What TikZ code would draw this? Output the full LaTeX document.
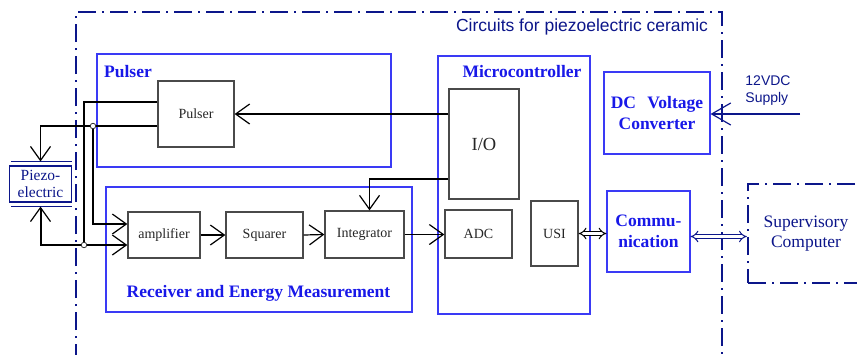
\documentclass[tikz,border=0pt]{standalone}
\usepackage{fontspec}
\setmainfont{Liberation Serif}
\setsansfont{Liberation Sans}
\usetikzlibrary{arrows.meta}
\definecolor{pz_blue}{HTML}{3A3AF5}
\definecolor{pz_label}{HTML}{1818E8}
\definecolor{pz_navy}{HTML}{0C168A}
\definecolor{BoxGray}{HTML}{4A4A4A}
\tikzset{
  block/.style={draw=BoxGray, fill=white, line width=1.3pt, inner sep=0pt,
                text=black!85, font=\fontsize{14}{16}\selectfont},
  group/.style={draw=pz_blue, line width=1.1pt, inner sep=0pt},
  grouptitle/.style={text=pz_label, font=\fontsize{17.5}{21}\selectfont\bfseries,
                     align=center, inner sep=0pt},
  boundary/.style={draw=pz_navy, line width=2.4pt,
                   dash pattern=on 18pt off 6pt on 2pt off 6pt},
  barb/.tip={Straight Barb[length=14pt, width=20pt, line width=1.2pt]},
  signal/.style={draw=black, line width=1.2pt, -barb},
  boldsignal/.style={draw=black, line width=2pt, barb-barb},
  plainwire/.style={draw=black, line width=1.2pt},
  junction/.style={circle, draw=black!80, fill=white, line width=0.8pt,
                   minimum size=5.5pt, inner sep=0pt},
  busarrow/.style={double=white, draw=black, line width=1pt, double distance=3pt,
                   {Implies[scale=1.6]}-{Implies[scale=1.6]}},
  supplyline/.style={draw=pz_navy, line width=1.3pt,
                 -{Straight Barb[length=19pt, width=22pt, line width=1.2pt]}},
  note/.style={text=pz_navy, font=\sffamily\fontsize{14}{17}\selectfont, align=left, inner sep=0pt},
  piezoplate/.style={draw=pz_navy, line width=1.4pt},
}

\begin{document}
\begin{tikzpicture}[x=1pt, y=-1pt]
  \useasboundingbox (0,0) rectangle (857,354);

  % --- outer boundary of the circuit board -------------------------------
  \draw[boundary] (76,362) -- (76,12) -- (722,12) -- (722,362);
  \node[text=pz_navy, font=\sffamily\fontsize{17.5}{20}\selectfont, inner sep=0pt]
    (boardtitle) at (582,27) {Circuits for piezoelectric ceramic};

  % --- functional groups -------------------------------------------------
  \node[group, minimum width=294, minimum height=113] (pulsergrp) at (244,110.5) {};
  \node[group, minimum width=306, minimum height=125] (recvgrp) at (259,249.5) {};
  \node[group, minimum width=152, minimum height=258] (mcugrp) at (514,185) {};
  \node[grouptitle, anchor=west] (pulsertitle) at (104,72) {Pulser};
  \node[grouptitle] (recvtitle) at (258.5,293) {Receiver and Energy Measurement};
  \node[grouptitle] (mcutitle) at (522,72) {Microcontroller};

  \node[group, grouptitle, minimum width=106, minimum height=82] (dcconv) at (657,113)
    {DC\hspace{0.65em}Voltage\\Converter};
  \node[group, grouptitle, minimum width=83, minimum height=81] (comm) at (648.5,231.5)
    {Commu-\\nication};

  % --- blocks ------------------------------------------------------------
  \node[block, minimum width=76, minimum height=66] (pulserblk) at (196,114) {Pulser};
  \node[block, minimum width=72, minimum height=46] (amp) at (164,235) {amplifier};
  \node[block, minimum width=77, minimum height=46] (squarer) at (264.5,235) {Squarer};
  \node[block, minimum width=79, minimum height=47] (integ) at (364.5,234.5) {Integrator};
  \node[block, minimum width=70, minimum height=110, font=\fontsize{18.5}{20}\selectfont]
    (io) at (484,144) {I/O};
  \node[block, minimum width=67, minimum height=48] (adc) at (478.5,234) {ADC};
  \node[block, minimum width=47, minimum height=65] (usi) at (554.5,233.5) {USI};

  % --- piezoelectric element ---------------------------------------------
  \node[draw=pz_navy, line width=1.1pt, minimum width=62, minimum height=36,
        inner sep=0pt, align=center, text=pz_navy, font=\fontsize{15.5}{16.5}\selectfont]
    (piezo) at (40.5,184) {Piezo-\\electric};
  \coordinate (piezo-top) at ([yshift=4pt]piezo.north);
  \coordinate (piezo-bot) at ([yshift=-4pt]piezo.south);
  \draw[piezoplate] ([xshift=2pt, yshift=4pt]piezo.north west) -- ([yshift=4pt]piezo.north east);
  \draw[piezoplate] ([xshift=2pt, yshift=-4pt]piezo.south west) -- ([yshift=-4pt]piezo.south east);

  % --- supervisory computer ----------------------------------------------
  \node[boundary, minimum width=116, minimum height=99, inner sep=0pt, align=center,
        text=pz_navy, font=\fontsize{17.5}{20}\selectfont] (supcomp) at (806,233.5)
    {Supervisory\\Computer};

  % --- excitation and receive wiring -------------------------------------
  \coordinate (jtop) at (93,126);
  \coordinate (jbot) at (84,245);
  \draw[plainwire] ([yshift=12pt]pulserblk.west) -| (jbot);
  \draw[signal] ([yshift=-12pt]pulserblk.west) -| (piezo-top);
  \draw[signal] (jtop) |- ([yshift=11pt]amp.west);
  \draw[boldsignal] (piezo-bot) |- ([yshift=-10pt]amp.west);
  \node[junction] (jtopdot) at (jtop) {};
  \node[junction] (jbotdot) at (jbot) {};

  % --- signal chain ------------------------------------------------------
  \draw[signal] (amp.east) -- (squarer.west);
  \draw[signal] (squarer.east) -- (integ.west);
  \draw[signal] (integ.east) -- (integ.east -| adc.west);
  \draw[signal] (pulserblk.east -| io.west) -- (pulserblk.east);
  \draw[signal] ([yshift=-35pt]io.west) -| ([xshift=5pt]integ.north);

  % --- communication and supply ------------------------------------------
  \draw[busarrow] (usi.east) -- (usi.east -| comm.west);
  \draw[busarrow, draw=pz_navy] ([yshift=-5pt]comm.east) -- ([yshift=-5pt]comm.east -| supcomp.west);
  \coordinate (supply) at (800,114);
  \draw[supplyline] (supply) -- (supply -| dcconv.east);
  \node[note] (supplynote) at (768,91) {12VDC\\Supply};

\end{tikzpicture}
\end{document}
